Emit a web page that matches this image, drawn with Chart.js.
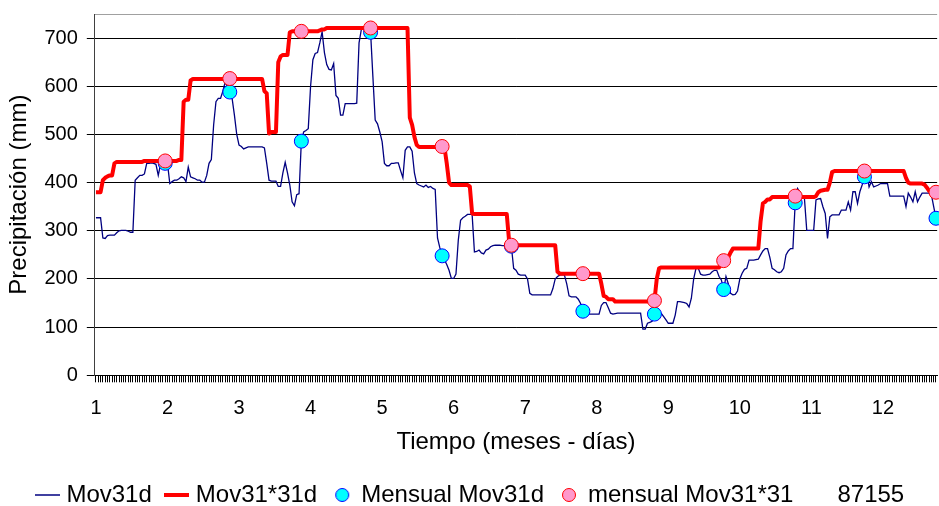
<!DOCTYPE html>
<html>
<head>
<meta charset="utf-8">
<script src="https://cdn.jsdelivr.net/npm/chart.js"></script>
<style>
html,body{margin:0;padding:0;overflow:hidden;background:#fff;width:939px;height:506px}
#wrap{position:absolute;left:0;top:0;width:950px;height:518px}
</style>
</head>
<body>
<div id="wrap"><canvas id="c" width="950" height="518"></canvas></div>
<script>
// ---- DATA ----
// Mov31d: daily values (365 days)
const mov31d = [
327,327,327,285,284,290,291,291,291,296,
300,301,301,301,299,297,297,405,410,415,
415,418,440,440,441,440,438,415,438,440,
440,440,398,402,405,405,408,412,410,402,
432,412,410,408,405,405,401,401,415,440,
448,520,568,575,575,590,609,598,588,575,
540,500,478,475,470,472,474,474,474,474,
474,474,474,472,440,405,403,403,403,392,
392,420,442,420,395,360,352,375,377,486,
505,508,512,600,655,668,670,690,713,670,
645,635,634,647,581,575,540,540,564,564,
564,564,564,565,690,718,720,720,718,712,
620,530,522,505,485,440,435,435,440,440,
441,441,425,410,467,474,474,465,420,398,
395,393,391,395,390,392,388,386,285,265,
248,240,230,218,201,201,210,280,322,327,
330,334,334,334,256,257,260,254,252,260,
262,267,269,270,270,270,269,269,269,269,
268,222,218,210,208,208,208,200,170,167,
167,167,167,167,167,167,167,167,180,200,
205,208,209,208,190,165,163,163,163,158,
149,133,127,127,127,127,127,127,127,145,
151,151,140,129,127,128,129,129,129,129,
129,129,129,129,129,129,129,96,96,108,
110,112,127,125,130,128,122,115,108,108,
108,125,153,153,152,151,149,142,160,200,
222,222,210,208,208,209,210,215,218,218,
205,198,178,205,190,170,167,168,175,200,
212,220,222,239,239,239,240,241,250,258,
263,263,245,222,219,215,213,215,222,250,
258,263,263,358,388,381,372,367,301,301,
301,301,364,366,367,350,336,284,329,333,
333,333,333,343,343,343,360,343,381,381,
357,381,395,412,419,391,402,391,393,395,
398,398,398,398,372,372,372,372,372,372,
372,350,378,370,360,381,360,370,378,378,
378,378,375,350,326
];
// Mov31*31d: daily values (365 days)
const mov31x31d = [
380,380,380,405,410,413,415,415,440,443,
443,443,443,443,443,443,443,443,443,443,
443,445,445,445,445,445,445,445,445,445,
445,445,445,445,445,445,447,447,568,572,
572,612,615,615,615,615,615,615,615,615,
615,615,615,615,615,615,615,615,615,615,
615,615,615,615,615,615,615,615,615,615,
615,615,615,590,585,502,505,505,505,650,
662,665,665,665,712,714,714,714,714,714,
714,714,714,714,714,714,714,716,718,718,
721,721,721,721,721,721,721,721,721,721,
721,721,721,721,721,721,721,721,721,721,
721,721,721,721,721,721,721,721,721,721,
721,721,721,721,721,721,535,520,495,478,
474,474,474,474,474,474,474,474,474,474,
474,474,440,400,395,395,395,395,395,395,
395,395,392,336,335,335,335,335,335,335,
335,335,335,335,335,335,335,335,335,280,
270,270,270,270,270,270,270,270,270,270,
270,270,270,270,270,270,270,270,270,270,
215,211,211,211,211,211,211,211,211,211,
211,211,211,211,211,211,211,211,211,190,
165,163,158,158,158,153,153,153,153,153,
153,153,153,153,153,153,153,153,153,153,
153,153,155,200,222,224,224,224,224,224,
224,224,224,224,224,224,224,224,224,224,
224,224,224,224,224,224,224,224,224,224,
224,232,238,240,245,255,263,263,263,263,
263,263,263,263,263,263,263,263,320,357,
360,365,365,370,370,370,370,370,370,370,
370,370,370,370,370,370,370,370,370,370,
370,370,372,380,383,384,385,385,400,422,
424,424,424,424,424,424,424,424,424,424,
424,424,424,424,424,424,424,424,424,424,
424,424,424,424,424,424,424,424,424,424,
424,410,400,398,398,398,398,398,398,396,
390,383,380,380,380
];
// monthly points: day index (0-based) of each month end, and values
const monthEndIdx      = [30, 58, 89, 119, 150, 180, 211, 242, 272, 303, 333, 364];
const mensualMov31d    = [440, 588, 486, 712, 248, 268, 133, 127, 178, 358, 412, 326];
const mensualMov31x31  = [445, 616, 714, 721, 475, 270, 211, 155, 238, 372, 424, 380];
// tick labels
const monthLabels = ['1','2','3','4','5','6','7','8','9','10','11','12'];
const labelEvery = 31;
const yTicks = [0, 100, 200, 300, 400, 500, 600, 700];
const yMax = 750;
const stationCode = '87155';

// ---- build ----
const FONT = "'Liberation Sans', Arial, Helvetica, sans-serif";
const days = mov31d.map((_, i) => i + 1);
const cyanData = days.map(() => null);
monthEndIdx.forEach((d, k) => { cyanData[d] = mensualMov31d[k]; });
const pinkData = days.map(() => null);
monthEndIdx.forEach((d, k) => { pinkData[d] = mensualMov31x31[k]; });

function lineIcon(color, w, len) {
  const c = document.createElement('canvas');
  c.width = len; c.height = Math.ceil(w) + 2;
  const g = c.getContext('2d');
  g.strokeStyle = color; g.lineWidth = w;
  g.beginPath(); g.moveTo(0, c.height / 2); g.lineTo(len, c.height / 2); g.stroke();
  return c;
}
function dotIcon(fill, stroke, r) {
  const c = document.createElement('canvas');
  c.width = c.height = Math.ceil(2 * r + 3);
  const g = c.getContext('2d');
  g.fillStyle = fill; g.strokeStyle = stroke; g.lineWidth = 1;
  g.beginPath(); g.arc(c.width / 2, c.height / 2, r, 0, Math.PI * 2); g.fill(); g.stroke();
  return c;
}
const blank = document.createElement('canvas'); blank.width = 1; blank.height = 1;

const icons = [
  lineIcon('#000080', 1.5, 25),
  lineIcon('#ff0000', 4, 25),
  dotIcon('#00ffff', '#0000ff', 6.5),
  dotIcon('#ff99cc', '#ff0000', 6.5)
];

new Chart(document.getElementById('c'), {
  type: 'line',
  data: {
    labels: days,
    datasets: [
      { label: 'Mov31d', data: mov31d, borderColor: '#000080', backgroundColor: '#000080',
        borderWidth: 1.3, pointRadius: 0, tension: 0, order: 4 },
      { label: 'Mov31*31d', data: mov31x31d, borderColor: '#ff0000', backgroundColor: '#ff0000',
        borderWidth: 4, pointRadius: 0, tension: 0, borderJoinStyle: 'round', order: 3 },
      { label: 'Mensual Mov31d', data: cyanData, showLine: false, pointRadius: 7,
        pointBackgroundColor: '#00ffff', pointBorderColor: '#0000ff', pointBorderWidth: 1, order: 2 },
      { label: 'mensual Mov31*31', data: pinkData, showLine: false, pointRadius: 7,
        pointBackgroundColor: '#ff99cc', pointBorderColor: '#ff0000', pointBorderWidth: 1, order: 1 }
    ]
  },
  options: {
    responsive: false,
    animation: false,
    devicePixelRatio: 1,
    layout: { padding: { top: 14, left: 0, right: 5.4, bottom: 1 } },
    plugins: {
      tooltip: { enabled: false },
      legend: {
        position: 'bottom',
        labels: {
          usePointStyle: true, boxWidth: 14, boxHeight: 14, padding: 18, color: '#000',
          font: { family: FONT, size: 24 },
          generateLabels: (chart) => {
            const items = chart.data.datasets.map((ds, i) => ({
              text: ds.label, pointStyle: icons[i], fillStyle: 'rgba(0,0,0,0)',
              strokeStyle: 'rgba(0,0,0,0)', lineWidth: 0, hidden: false, datasetIndex: i, fontColor: '#000'
            }));
            items.push({ text: stationCode, pointStyle: blank, fillStyle: 'rgba(0,0,0,0)',
              strokeStyle: 'rgba(0,0,0,0)', lineWidth: 0, hidden: false, fontColor: '#000' });
            return items;
          }
        }
      }
    },
    scales: {
      x: {
        type: 'category', offset: true,
        ticks: {
          autoSkip: false, maxRotation: 0, minRotation: 0, padding: 14, color: '#000',
          font: { family: FONT, size: 20 },
          callback: (v, i) => (i % labelEvery === 0 ? monthLabels[i / labelEvery] : '')
        },
        grid: { drawOnChartArea: false, drawTicks: true, tickLength: 7, color: '#000', lineWidth: 1 },
        border: { color: '#000', width: 1 },
        title: { display: true, text: 'Tiempo (meses - días)', color: '#000',
          font: { family: FONT, size: 24 }, padding: { top: 0, bottom: 8 } },
        afterFit: (s) => { s.height = 89.7; }
      },
      y: {
        min: 0, max: yMax,
        afterBuildTicks: (s) => { s.ticks = yTicks.concat([yMax]).map(v => ({ value: v })); },
        ticks: { padding: 9, color: '#000',
          font: (c) => (c.tick && c.tick.value === yMax ? { family: FONT, size: 1 } : { family: FONT, size: 20 }),
          callback: (v) => (v === yMax ? '' : v) },
        grid: {
          color: (c) => (c.tick && c.tick.value === yMax ? '#a0a0a0' : '#000'),
          tickColor: (c) => (c.tick && c.tick.value === yMax ? 'rgba(0,0,0,0)' : '#000'),
          tickLength: 8, lineWidth: 1
        },
        border: { color: '#404040', width: 1 },
        title: { display: true, text: 'Precipitación (mm)', color: '#000',
          font: { family: FONT, size: 24 }, padding: { top: 5, bottom: 0 } },
        afterFit: (s) => { s.width = 94.8; }
      }
    }
  }
});
</script>
</body>
</html>
